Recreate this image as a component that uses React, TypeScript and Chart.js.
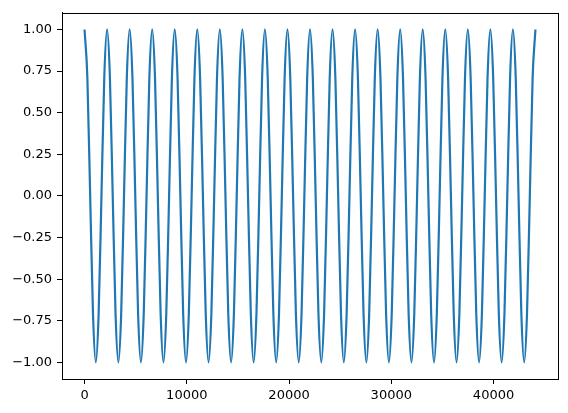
import React, { useEffect, useRef } from "react";
import { Chart, registerables } from "chart.js";

Chart.register(...registerables);

// Sample index (x) of each plotted point, 8 points per period
const sampleX: number[] = [
  0, 276, 551, 827, 1103, 1378, 1654, 1929,
  2205, 2481, 2756, 3032, 3308, 3583, 3859, 4134,
  4410, 4686, 4961, 5237, 5513, 5788, 6064, 6339,
  6615, 6891, 7166, 7442, 7718, 7993, 8269, 8544,
  8820, 9096, 9371, 9647, 9923, 10198, 10474, 10749,
  11025, 11301, 11576, 11852, 12128, 12403, 12679, 12954,
  13230, 13506, 13781, 14057, 14333, 14608, 14884, 15159,
  15435, 15711, 15986, 16262, 16538, 16813, 17089, 17364,
  17640, 17916, 18191, 18467, 18743, 19018, 19294, 19569,
  19845, 20121, 20396, 20672, 20948, 21223, 21499, 21774,
  22050, 22326, 22601, 22877, 23153, 23428, 23704, 23979,
  24255, 24531, 24806, 25082, 25358, 25633, 25909, 26184,
  26460, 26736, 27011, 27287, 27563, 27838, 28114, 28389,
  28665, 28941, 29216, 29492, 29768, 30043, 30319, 30594,
  30870, 31146, 31421, 31697, 31973, 32248, 32524, 32799,
  33075, 33351, 33626, 33902, 34178, 34453, 34729, 35004,
  35280, 35556, 35831, 36107, 36383, 36658, 36934, 37209,
  37485, 37761, 38036, 38312, 38588, 38863, 39139, 39414,
  39690, 39966, 40241, 40517, 40793, 41068, 41344, 41619,
  41895, 42171, 42446, 42722, 42998, 43273, 43549, 43824,
  44100,
];

// Signal value at each point
const signalY: number[] = [
  1, 0.71, 0, -0.71, -1, -0.71, 0, 0.71,
  1, 0.71, 0, -0.71, -1, -0.71, 0, 0.71,
  1, 0.71, 0, -0.71, -1, -0.71, 0, 0.71,
  1, 0.71, 0, -0.71, -1, -0.71, 0, 0.71,
  1, 0.71, 0, -0.71, -1, -0.71, 0, 0.71,
  1, 0.71, 0, -0.71, -1, -0.71, 0, 0.71,
  1, 0.71, 0, -0.71, -1, -0.71, 0, 0.71,
  1, 0.71, 0, -0.71, -1, -0.71, 0, 0.71,
  1, 0.71, 0, -0.71, -1, -0.71, 0, 0.71,
  1, 0.71, 0, -0.71, -1, -0.71, 0, 0.71,
  1, 0.71, 0, -0.71, -1, -0.71, 0, 0.71,
  1, 0.71, 0, -0.71, -1, -0.71, 0, 0.71,
  1, 0.71, 0, -0.71, -1, -0.71, 0, 0.71,
  1, 0.71, 0, -0.71, -1, -0.71, 0, 0.71,
  1, 0.71, 0, -0.71, -1, -0.71, 0, 0.71,
  1, 0.71, 0, -0.71, -1, -0.71, 0, 0.71,
  1, 0.71, 0, -0.71, -1, -0.71, 0, 0.71,
  1, 0.71, 0, -0.71, -1, -0.71, 0, 0.71,
  1, 0.71, 0, -0.71, -1, -0.71, 0, 0.71,
  1, 0.71, 0, -0.71, -1, -0.71, 0, 0.71,
  1,
];

const xTicks: number[] = [0, 10000, 20000, 30000, 40000];
const yTicks: number[] = [-1, -0.75, -0.5, -0.25, 0, 0.25, 0.5, 0.75, 1];

const FONT = { family: "'DejaVu Sans', sans-serif", size: 13 };

export default function App() {
  const ref = useRef<HTMLCanvasElement | null>(null);

  useEffect(() => {
    if (!ref.current) return;
    const data = sampleX.map((x, i) => ({ x, y: signalY[i] }));
    const chart = new Chart(ref.current, {
      type: "line",
      data: {
        datasets: [
          {
            data,
            borderColor: "#1f77b4",
            borderWidth: 2.2,
            pointRadius: 0,
            fill: false,
            cubicInterpolationMode: "monotone",
          },
        ],
      },
      options: {
        animation: false,
        responsive: false,
        maintainAspectRatio: false,
        layout: { padding: { left: 0, right: 10, top: 10, bottom: 0 } },
        plugins: { legend: { display: false }, tooltip: { enabled: false } },
        scales: {
          x: {
            type: "linear",
            min: -2205,
            max: 46305,
            afterBuildTicks: (s: any) => {
              s.ticks = xTicks.map((v) => ({ value: v }));
            },
            afterFit: (s: any) => {
              s.height = 34;
            },
            grid: {
              drawOnChartArea: false,
              tickLength: 5,
              tickColor: "#000",
              tickWidth: 1,
            },
            border: { color: "#000", width: 1 },
            ticks: {
              color: "#000",
              font: FONT,
              padding: 4,
              maxRotation: 0,
              callback: (v: any) => String(v),
            },
          },
          y: {
            type: "linear",
            min: -1.1,
            max: 1.1,
            afterBuildTicks: (s: any) => {
              s.ticks = yTicks.map((v) => ({ value: v }));
            },
            afterFit: (s: any) => {
              s.width = 62;
            },
            grid: {
              drawOnChartArea: false,
              tickLength: 5,
              tickColor: "#000",
              tickWidth: 1,
            },
            border: { color: "#000", width: 1 },
            ticks: {
              color: "#000",
              font: FONT,
              padding: 5,
              callback: (v: any) => {
                const s = Number(v).toFixed(2);
                return s.startsWith("-") ? "\u2212" + s.slice(1) : s;
              },
            },
          },
        },
      },
      plugins: [
        {
          id: "frame",
          afterDraw: (c: any) => {
            const { ctx, chartArea } = c;
            ctx.save();
            ctx.strokeStyle = "#000";
            ctx.lineWidth = 1;
            ctx.strokeRect(
              Math.round(chartArea.left) + 0.5,
              Math.round(chartArea.top) + 0.5,
              Math.round(chartArea.right - chartArea.left),
              Math.round(chartArea.bottom - chartArea.top)
            );
            ctx.restore();
          },
        },
      ],
    } as any);
    return () => chart.destroy();
  }, []);

  return (
    <div style={{ position: "fixed", left: 0, top: 0, width: 568, height: 413, background: "#fff" }}>
      <canvas ref={ref} width={568} height={413} style={{ width: 568, height: 413 }} />
    </div>
  );
}
